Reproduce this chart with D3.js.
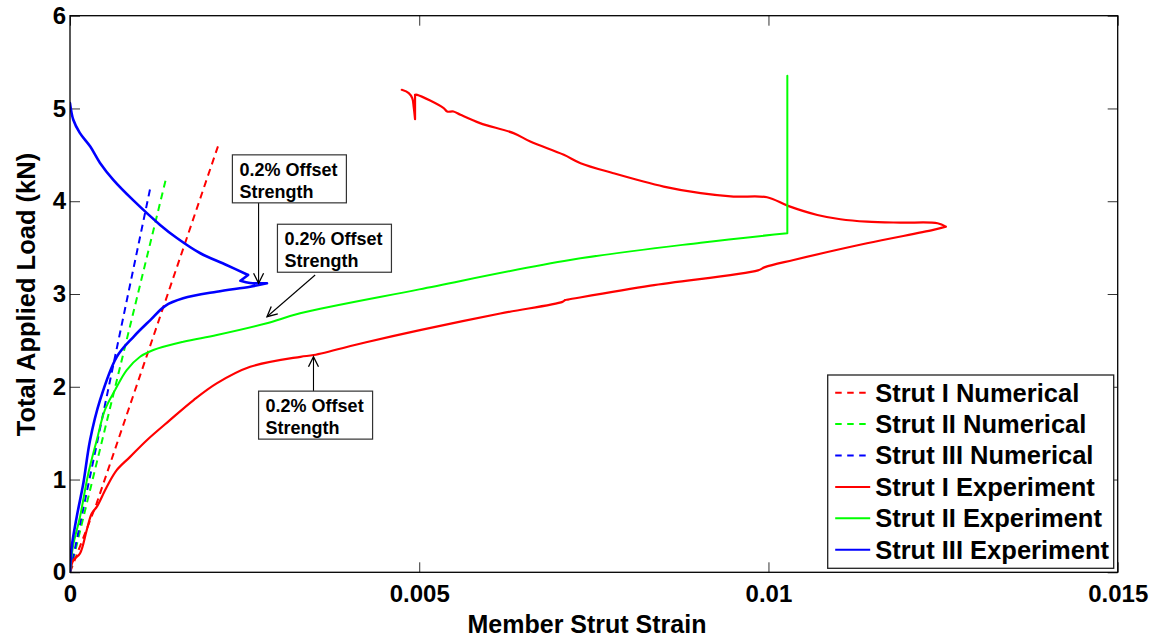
<!DOCTYPE html>
<html>
<head>
<meta charset="utf-8">
<script src="https://cdn.jsdelivr.net/npm/d3@7"></script>
<style>
  body { margin: 0; background: #fff; }
  svg { display: block; font-family: "Liberation Sans", Arial, sans-serif; font-weight: bold; }
</style>
</head>
<body>
<svg id="chart" width="1160" height="639"></svg>
<script>
// Axis ticks
const xTicks = [0, 0.005, 0.01, 0.015];
const xTickLabels = ["0", "0.005", "0.01", "0.015"];
const yTicks = [0, 1, 2, 3, 4, 5, 6];
const yTickLabels = ["0", "1", "2", "3", "4", "5", "6"];

// Numerical (elastic) predictions
const strut1NumStrain = [0, 0.00038, 0.00214];
const strut1NumLoad   = [0, 0.74, 4.64];
const strut2NumStrain = [0, 0.00137];
const strut2NumLoad   = [0, 4.23];
const strut3NumStrain = [0, 0.001146];
const strut3NumLoad   = [0, 4.13];

// Strut I test record
const strut1ExpStrain = [0, 0.000047, 0.000143, 0.000239, 0.000311, 0.000383, 0.000526, 0.000669, 0.00086, 0.0011,
  0.00143, 0.00177, 0.0021, 0.00258, 0.0033, 0.00349, 0.00424, 0.00501, 0.00616, 0.00705, 0.00709, 0.00713,
  0.00831, 0.00985, 0.00995, 0.01036, 0.01141, 0.01236, 0.01254, 0.01242, 0.01189, 0.01141, 0.01103, 0.0107,
  0.01028, 0.00998, 0.0095, 0.00903, 0.0085, 0.00778, 0.00731, 0.00707, 0.00659, 0.00635, 0.00587, 0.00559,
  0.00549, 0.0054, 0.00535, 0.00497, 0.00494, 0.00494, 0.00492, 0.0049, 0.00485, 0.00475];
const strut1ExpLoad = [0, 0.129, 0.202, 0.453, 0.633, 0.705, 0.92, 1.101, 1.244, 1.424,
  1.64, 1.856, 2.036, 2.215, 2.323, 2.342, 2.48, 2.611, 2.79, 2.915, 2.935, 2.94,
  3.09, 3.255, 3.29, 3.367, 3.547, 3.691, 3.726, 3.763, 3.769, 3.78, 3.806, 3.852,
  3.95, 4.043, 4.05, 4.087, 4.158, 4.302, 4.41, 4.5, 4.643, 4.734, 4.842, 4.932,
  4.967, 4.967, 5.004, 5.147, 5.147, 4.885, 5.021, 5.112, 5.166, 5.201];

// Strut II test record
const strut2ExpStrain = [0, 0.000043, 0.000143, 0.000262, 0.000383, 0.0005, 0.000645, 0.000812, 0.001003, 0.001193,
  0.001623, 0.002102, 0.002818, 0.003295, 0.005, 0.00716, 0.00903, 0.01027, 0.01027];
const strut2ExpLoad = [0, 0.28, 0.597, 1.065, 1.424, 1.75, 1.964, 2.18, 2.323, 2.396,
  2.485, 2.557, 2.684, 2.792, 3.05, 3.367, 3.553, 3.655, 5.354];

// Strut III test record
const strut3ExpStrain = [0, 0.0000244, 0.000096, 0.000191, 0.000287, 0.00043, 0.00067, 0.00091, 0.00115, 0.00136,
  0.00162, 0.0021, 0.00258, 0.00282, 0.00258, 0.00244, 0.00255, 0.00224, 0.00186, 0.00153, 0.00129, 0.0009,
  0.00062, 0.00043, 0.00029, 0.00014, 0.000047, 0];
const strut3ExpLoad = [0, 0.273, 0.597, 0.96, 1.424, 1.856, 2.323, 2.539, 2.719, 2.87,
  2.953, 3.025, 3.079, 3.116, 3.119, 3.143, 3.205, 3.313, 3.442, 3.604, 3.745, 4.014,
  4.23, 4.413, 4.589, 4.737, 4.878, 5.058];

// Series: name, strain, load, colour, dashed
const seriesNames  = ["Strut I Numerical", "Strut II Numerical", "Strut III Numerical",
                      "Strut I Experiment", "Strut II Experiment", "Strut III Experiment"];
const seriesStrain = [strut1NumStrain, strut2NumStrain, strut3NumStrain, strut1ExpStrain, strut2ExpStrain, strut3ExpStrain];
const seriesLoad   = [strut1NumLoad, strut2NumLoad, strut3NumLoad, strut1ExpLoad, strut2ExpLoad, strut3ExpLoad];
const seriesColor  = ["#ff0000", "#00ff00", "#0000ff", "#ff0000", "#00ff00", "#0000ff"];
const seriesDashed = [true, true, true, false, false, false];
const seriesWidth  = [2, 2, 2, 2.2, 2, 2.6];
// Sample indices where a record turns sharply (kept as corners, not smoothed)
const seriesCorners = [[], [], [], [28, 50, 51], [17], [13, 15, 16]];

// 0.2% offset strength callouts (box corner and arrow, in data units)
const noteText = ["0.2% Offset", "Strength"];
const noteBoxStrain   = [0.002325, 0.00297, 0.0027];
const noteBoxLoad     = [4.5, 3.752, 1.953];
const noteFromStrain  = [0.0027, 0.00351, 0.003486];
const noteFromLoad    = [3.985, 3.205, 1.953];
const noteToStrain    = [0.0027, 0.00282, 0.003486];
const noteToLoad      = [3.115, 2.755, 2.323];

const svg = d3.select("#chart");
const plotLeft = 70, plotRight = 1117.7, plotTop = 15.7, plotBottom = 572.3;

const x = d3.scaleLinear().domain([0, 0.015]).range([plotLeft, plotRight]);
const y = d3.scaleLinear().domain([0, 6]).range([plotBottom, plotTop]);

// Axes with inward ticks on all four sides
const tickStyle = g => {
  g.select(".domain").remove();
  g.selectAll(".tick line").attr("stroke", "#333").attr("stroke-width", 1);
  g.selectAll(".tick text").attr("fill", "#000").attr("font-size", 24).attr("font-weight", "bold")
    .attr("font-family", '"Liberation Sans", Arial, sans-serif');
};

svg.append("g").attr("transform", `translate(0,${plotBottom})`)
  .call(d3.axisBottom(x).tickValues(xTicks).tickFormat((d, i) => xTickLabels[i]).tickSizeInner(-10).tickSizeOuter(0).tickPadding(13))
  .call(tickStyle);
svg.append("g").attr("transform", `translate(0,${plotTop})`)
  .call(d3.axisTop(x).tickValues(xTicks).tickFormat("").tickSizeInner(-10).tickSizeOuter(0))
  .call(tickStyle);
svg.append("g").attr("transform", `translate(${plotLeft},0)`)
  .call(d3.axisLeft(y).tickValues(yTicks).tickFormat((d, i) => yTickLabels[i]).tickSizeInner(-10).tickSizeOuter(0).tickPadding(4))
  .call(tickStyle);
svg.append("g").attr("transform", `translate(${plotRight},0)`)
  .call(d3.axisRight(y).tickValues(yTicks).tickFormat("").tickSizeInner(-10).tickSizeOuter(0))
  .call(tickStyle);

// Curves
const clipId = "plotClip";
svg.append("clipPath").attr("id", clipId).append("rect")
  .attr("x", plotLeft).attr("y", plotTop).attr("width", plotRight - plotLeft).attr("height", plotBottom - plotTop);

const straight = d3.line().x(d => x(d[0])).y(d => y(d[1]));
const smooth = d3.line().x(d => x(d[0])).y(d => y(d[1])).curve(d3.curveCatmullRom.alpha(0.5));

// Smooth each stretch between corners, keeping the corners sharp
function smoothPath(pts, corners) {
  const cuts = [0, ...corners, pts.length - 1];
  let d = "";
  for (let k = 0; k < cuts.length - 1; k++) {
    d += smooth(pts.slice(cuts[k], cuts[k + 1] + 1));
  }
  return d;
}

const curves = svg.append("g").attr("clip-path", `url(#${clipId})`);
seriesNames.forEach((name, i) => {
  const pts = seriesStrain[i].map((s, k) => [s, seriesLoad[i][k]]);
  curves.append("path")
    .attr("d", seriesDashed[i] ? straight(pts) : smoothPath(pts, seriesCorners[i]))
    .attr("fill", "none")
    .attr("stroke", seriesColor[i])
    .attr("stroke-width", seriesWidth[i])
    .attr("stroke-linejoin", "round")
    .attr("stroke-linecap", seriesDashed[i] ? "butt" : "round")
    .attr("stroke-dasharray", seriesDashed[i] ? "7,5" : null);
});

// Plot frame
svg.append("rect")
  .attr("x", plotLeft).attr("y", plotTop).attr("width", plotRight - plotLeft).attr("height", plotBottom - plotTop)
  .attr("fill", "none").attr("stroke", "#000").attr("stroke-width", 1.3);

// Callouts
svg.append("defs").append("marker")
  .attr("id", "arrowHead").attr("viewBox", "-12 -7 14 14")
  .attr("refX", 0).attr("refY", 0).attr("markerWidth", 14).attr("markerHeight", 14)
  .attr("markerUnits", "userSpaceOnUse").attr("orient", "auto")
  .append("path").attr("d", "M-10,-5 L0,0 L-10,5").attr("fill", "none").attr("stroke", "#000").attr("stroke-width", 1.3);

const boxW = 114, boxH = 48;
noteBoxStrain.forEach((s, i) => {
  svg.append("line")
    .attr("x1", x(noteFromStrain[i])).attr("y1", y(noteFromLoad[i]))
    .attr("x2", x(noteToStrain[i])).attr("y2", y(noteToLoad[i]))
    .attr("stroke", "#000").attr("stroke-width", 1.1)
    .attr("marker-end", "url(#arrowHead)");
  const g = svg.append("g").attr("transform", `translate(${x(s)},${y(noteBoxLoad[i])})`);
  g.append("rect").attr("width", boxW).attr("height", boxH)
    .attr("fill", "#fff").attr("stroke", "#333").attr("stroke-width", 1.2);
  noteText.forEach((t, k) => {
    g.append("text").attr("x", 7).attr("y", 21 + k * 22)
      .attr("font-size", 18).attr("fill", "#000").text(t);
  });
});

// Legend
const legX = 827.7, legY = 375, legW = 286, legH = 193.3, rowGap = 31.4, firstRow = 17.7;
const legend = svg.append("g").attr("transform", `translate(${legX},${legY})`);
legend.append("rect").attr("width", legW).attr("height", legH)
  .attr("fill", "#fff").attr("stroke", "#222").attr("stroke-width", 1.3);
seriesNames.forEach((name, i) => {
  const cy = firstRow + i * rowGap;
  legend.append("line")
    .attr("x1", 7.5).attr("x2", 42.5).attr("y1", cy).attr("y2", cy)
    .attr("stroke", seriesColor[i]).attr("stroke-width", 2)
    .attr("stroke-dasharray", seriesDashed[i] ? "6.5,5.5" : null);
  legend.append("text").attr("x", 47.5).attr("y", cy + 8.8)
    .attr("font-size", 25.5).attr("fill", "#000").text(name);
});

// Axis titles
svg.append("text")
  .attr("x", 587).attr("y", 633)
  .attr("text-anchor", "middle").attr("font-size", 25).attr("fill", "#000")
  .text("Member Strut Strain");
svg.append("text")
  .attr("transform", "translate(35,294.5) rotate(-90)")
  .attr("text-anchor", "middle").attr("font-size", 25.5).attr("fill", "#000")
  .text("Total Applied Load (kN)");
</script>
</body>
</html>
